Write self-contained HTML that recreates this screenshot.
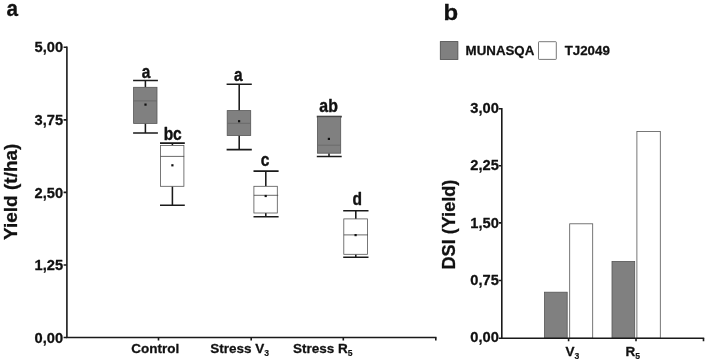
<!DOCTYPE html>
<html>
<head>
<meta charset="utf-8">
<style>
html,body{margin:0;padding:0;background:#fff;}
body{width:708px;height:363px;overflow:hidden;}
svg{display:block;}
text{font-family:"Liberation Sans",sans-serif;font-weight:bold;fill:#111;stroke:#111;stroke-width:0.28;stroke-linejoin:round;}
.ax{stroke:#1a1a1a;stroke-width:1.6;fill:none;}
.wh{stroke:#1a1a1a;stroke-width:1.55;fill:none;}
.gb{fill:#808080;stroke:#555;stroke-width:0.8;}
.wb{fill:#fff;stroke:#555;stroke-width:0.8;}
.md{stroke:#444;stroke-width:0.8;}
.mg{stroke:#686868;stroke-width:0.9;}
.dot{fill:#111;}
.tk{font-size:14.67px;}
.ct{font-size:13.5px;}
.sub{font-size:8.6px;stroke-width:0.15;}
.lg{font-size:13.3px;}
.let{font-size:17.8px;stroke-width:0.4;}
</style>
</head>
<body>
<svg style="filter:grayscale(1)" width="708" height="363" viewBox="0 0 708 363">
<rect width="708" height="363" fill="#fff"/>

<!-- panel letters -->
<text transform="translate(6.6,15.6) scale(0.95,1)" font-size="21.8">a</text>
<text transform="translate(443.6,19.7) scale(1.06,1)" font-size="22.6">b</text>

<!-- Panel a axes -->
<path class="ax" d="M66.9 46.5 V337.5 H436.5"/>
<path class="ax" d="M63.6 47.3H66.9 M63.6 119.9H66.9 M63.6 192.4H66.9 M63.6 265H66.9 M63.6 337.5H66.9"/>
<path class="ax" d="M158.5 337.5V340.5 M251.2 337.5V340.5 M343.3 337.5V340.5 M435.8 337.5V340.5"/>
<text class="tk" x="63.1" y="52.4" text-anchor="end">5,00</text>
<text class="tk" x="63.1" y="125.0" text-anchor="end">3,75</text>
<text class="tk" x="63.1" y="197.6" text-anchor="end">2,50</text>
<text class="tk" x="63.1" y="270.2" text-anchor="end">1,25</text>
<text class="tk" x="63.1" y="342.7" text-anchor="end">0,00</text>
<text transform="translate(16.6,240) rotate(-90)" font-size="19">Yield (t/ha)</text>

<text class="ct" x="131.2" y="352.7">Control</text>
<text class="ct" x="210.3" y="352.7">Stress V<tspan class="sub" dy="3">3</tspan></text>
<text class="ct" x="293" y="352.7">Stress R<tspan class="sub" dy="3">5</tspan></text>

<!-- Box 1 -->
<path class="wh" d="M133.1 80.4H157.9 M145.4 80.4V87.3 M145.4 123.4V132.9 M133.1 132.9H157.9"/>
<rect class="gb" x="133.6" y="87.3" width="23.4" height="36.1"/>
<path class="mg" d="M133.6 100.9H157"/>
<rect class="dot" x="144.4" y="103.5" width="2.2" height="2.2"/>
<!-- Box 2 -->
<path class="wh" d="M160 143.1H184.8 M172.4 143.1V145.4 M172.4 186.3V205.2 M160 205.2H184.8"/>
<rect class="wb" x="160.5" y="145.4" width="23.4" height="40.9"/>
<path class="md" d="M160.5 156.4H184.2"/>
<rect class="dot" x="171.3" y="164.2" width="2.2" height="2.2"/>
<!-- Box 3 -->
<path class="wh" d="M226.6 84.3H251.8 M239.2 84.3V110.6 M239.2 135.5V149.6 M226.6 149.6H251.8"/>
<rect class="gb" x="227.2" y="110.6" width="23.5" height="24.9"/>
<path class="mg" d="M227.2 123.3H250.7"/>
<rect class="dot" x="238" y="120.1" width="2.2" height="2.2"/>
<!-- Box 4 -->
<path class="wh" d="M253.5 171.1H278.6 M265.8 171.1V186.3 M265.8 213V216.7 M253.5 216.7H278.6"/>
<rect class="wb" x="253.9" y="186.3" width="23.4" height="26.7"/>
<path class="md" d="M253.9 195.3H278.2"/>
<rect class="dot" x="264.6" y="194.9" width="2.2" height="2.2"/>
<!-- Box 5 -->
<path class="wh" d="M316.8 116.6H341.7 M329 153.2V156.5 M316.8 156.5H341.7"/>
<rect class="gb" x="317.4" y="116.8" width="23.3" height="36.4"/>
<path class="mg" d="M317.4 145.2H340.7"/>
<rect class="dot" x="327.8" y="137.8" width="2.2" height="2.2"/>
<!-- Box 6 -->
<path class="wh" d="M343.2 210.7H368.5 M355.8 210.7V218.9 M355.8 254.3V257.2 M343.2 257.2H368.5"/>
<rect class="wb" x="343.8" y="218.9" width="23.6" height="35.4"/>
<path class="md" d="M343.8 234.9H368"/>
<rect class="dot" x="354.5" y="234" width="2.2" height="2.2"/>

<!-- significance letters -->
<text class="let" transform="translate(146.1,77.5) scale(0.864,1)" text-anchor="middle">a</text>
<text class="let" transform="translate(172.7,140) scale(0.874,1)" text-anchor="middle">bc</text>
<text class="let" transform="translate(238.2,81) scale(0.864,1)" text-anchor="middle">a</text>
<text class="let" transform="translate(265,165.5) scale(0.874,1)" text-anchor="middle">c</text>
<text class="let" transform="translate(328.6,112) scale(0.893,1)" text-anchor="middle">ab</text>
<text class="let" transform="translate(357.3,204.5) scale(0.874,1)" text-anchor="middle">d</text>

<!-- Legend -->
<rect x="440.3" y="41.6" width="17.6" height="17.8" fill="#808080" stroke="#4a4a4a" stroke-width="0.8"/>
<text class="lg" x="465.6" y="55.3">MUNASQA</text>
<rect x="538.5" y="41.7" width="17.8" height="17.7" rx="0.6" fill="#fff" stroke="#555" stroke-width="0.8"/>
<text class="lg" x="564.7" y="55.3">TJ2049</text>

<!-- Panel b -->
<text class="tk" x="498.8" y="113.2" text-anchor="end">3,00</text>
<text class="tk" x="498.8" y="170.4" text-anchor="end">2,25</text>
<text class="tk" x="498.8" y="227.6" text-anchor="end">1,50</text>
<text class="tk" x="498.8" y="284.9" text-anchor="end">0,75</text>
<text class="tk" x="498.8" y="342.2" text-anchor="end">0,00</text>
<text transform="translate(455.3,269.5) rotate(-90)" font-size="18.1">DSI (Yield)</text>

<rect class="gb" x="544.5" y="292.2" width="22.7" height="46"/>
<rect class="wb" x="569.7" y="223.8" width="23" height="114.4"/>
<rect class="gb" x="612" y="261.4" width="22.7" height="76.8"/>
<rect class="wb" x="636.9" y="131.4" width="23.4" height="206.8"/>
<path class="ax" d="M501.8 108 V338.2 H704.2"/>
<path class="ax" d="M498.8 108.7H501.8 M498.8 165.8H501.8 M498.8 222.9H501.8 M498.8 280.5H501.8 M498.8 338.2H501.8"/>
<path class="ax" d="M568.6 338.2V341.2 M636 338.2V341.2 M703.5 338.2V341.2"/>
<text class="ct" x="565.5" y="356">V<tspan class="sub" dy="3">3</tspan></text>
<text class="ct" x="625.4" y="356">R<tspan class="sub" dy="3">5</tspan></text>
</svg>
</body>
</html>
